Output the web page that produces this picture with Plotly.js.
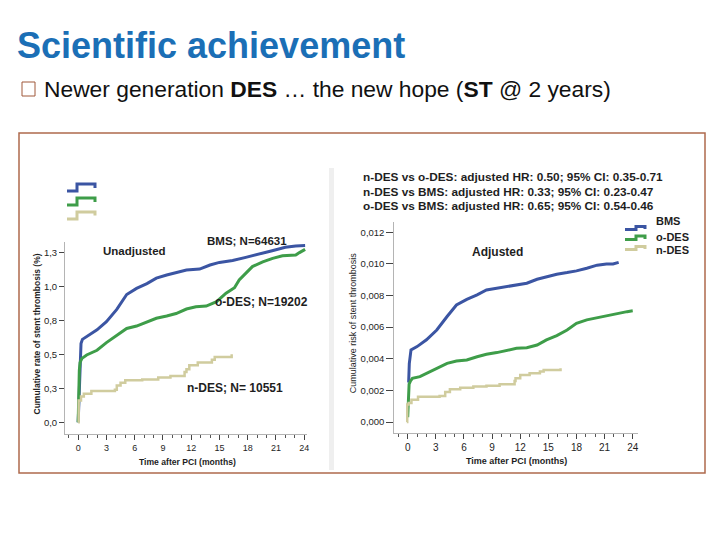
<!DOCTYPE html>
<html>
<head>
<meta charset="utf-8">
<script src="https://cdn.plot.ly/plotly-3.0.1.min.js"></script>
<style>html,body{margin:0;padding:0;background:#fff;}#chart{width:720px;height:540px;}</style>
</head>
<body>
<div id="chart"></div>
<script>
// ---------- Data ----------
// Unadjusted (left panel): cumulative rate of stent thrombosis (%)
var bmsUnadjMonths = [0, 0.15, 0.22, 0.3, 0.45, 0.9, 2.0, 3.0, 4.1, 5.15, 6.2, 7.3, 8.3, 9.4, 10.4, 11.5, 12.9, 14.0, 15.0, 16.4, 17.8, 19.2, 20.6, 22.0, 23.1, 24.1];
var bmsUnadjRate   = [0, 0.30, 0.45, 0.58, 0.61, 0.63, 0.68, 0.74, 0.83, 0.94, 0.985, 1.02, 1.06, 1.083, 1.10, 1.12, 1.127, 1.157, 1.176, 1.19, 1.213, 1.24, 1.262, 1.287, 1.297, 1.30];
var odesUnadjMonths = [0, 0.05, 0.12, 0.2, 0.4, 0.9, 2.0, 3.0, 4.1, 5.15, 6.2, 7.3, 8.3, 9.4, 10.4, 11.5, 12.5, 13.6, 14.7, 15.7, 16.6, 17.1, 17.8, 18.5, 19.6, 20.65, 21.7, 23.1, 23.5, 24.1];
var odesUnadjRate   = [0, 0.20, 0.38, 0.44, 0.47, 0.495, 0.53, 0.586, 0.642, 0.69, 0.708, 0.735, 0.765, 0.782, 0.80, 0.833, 0.85, 0.855, 0.887, 0.95, 0.99, 1.047, 1.096, 1.145, 1.18, 1.206, 1.225, 1.23, 1.248, 1.272];
var ndesUnadjMonths = [0, 0.05, 0.3, 0.6, 1.4, 3.9, 4.1, 4.5, 5.0, 6.8, 8.5, 9.8, 11.3, 11.5, 11.8, 12.7, 14.2, 14.5, 16.3];
var ndesUnadjRate   = [0, 0.16, 0.19, 0.21, 0.23, 0.24, 0.27, 0.29, 0.31, 0.315, 0.33, 0.34, 0.37, 0.39, 0.42, 0.44, 0.46, 0.48, 0.50];

// Adjusted (right panel): cumulative risk of stent thrombosis
var bmsAdjMonths = [0.1, 0.17, 0.35, 1.0, 2.0, 3.1, 4.2, 5.2, 6.3, 7.4, 8.4, 9.5, 10.6, 11.6, 12.7, 13.8, 14.8, 15.9, 17.0, 18.0, 19.1, 20.2, 21.2, 21.9, 22.5];
var bmsAdjRisk   = [0.0025, 0.0037, 0.00456, 0.00477, 0.0052, 0.00582, 0.00667, 0.0074, 0.00776, 0.00804, 0.00835, 0.00846, 0.0086, 0.00871, 0.00878, 0.00903, 0.0092, 0.00935, 0.00945, 0.00956, 0.00973, 0.00992, 0.0100, 0.0100, 0.0101];
var odesAdjMonths = [0, 0.05, 0.15, 0.3, 0.5, 1.3, 2.0, 3.1, 4.2, 5.2, 6.3, 7.4, 8.4, 9.5, 10.6, 11.6, 12.7, 13.8, 14.8, 15.9, 17.0, 18.0, 19.1, 20.2, 21.2, 22.3, 23.4, 24.0];
var odesAdjRisk   = [0.0003, 0.0013, 0.0024, 0.0026, 0.00276, 0.00287, 0.00308, 0.0034, 0.00371, 0.00386, 0.00392, 0.00413, 0.00428, 0.00439, 0.00451, 0.00466, 0.0047, 0.00487, 0.00519, 0.00546, 0.00582, 0.00624, 0.00646, 0.0066, 0.00671, 0.00684, 0.00698, 0.00703];
var ndesAdjMonths = [-0.1, -0.05, 0.1, 0.4, 1.1, 3.4, 4.0, 4.5, 5.6, 7.0, 8.4, 9.8, 11.4, 11.5, 12.0, 13.0, 14.1, 14.5, 16.3];
var ndesAdjRisk   = [0, 0.0011, 0.0012, 0.0014, 0.0016, 0.00165, 0.0019, 0.00207, 0.00217, 0.00224, 0.0023, 0.00238, 0.0026, 0.00276, 0.00297, 0.00308, 0.00319, 0.00329, 0.0034];

// Tick labels
var monthTickVals = [0, 3, 6, 9, 12, 15, 18, 21, 24];
var monthTickText = ["0", "3", "6", "9", "12", "15", "18", "21", "24"];
var unadjTickVals = [0, 0.25, 0.5, 0.75, 1.0, 1.25];
var unadjTickText = ["0,0", "0,3", "0,5", "0,8", "1,0", "1,3"];
var adjTickVals = [0, 0.002, 0.004, 0.006, 0.008, 0.010, 0.012];
var adjTickText = ["0,000", "0,002", "0,004", "0,006", "0,008", "0,010", "0,012"];

var seriesNames = ["BMS", "o-DES", "n-DES"];
var unadjLabels = ["BMS; N=64631", "o-DES; N=19202", "n-DES; N= 10551"];
var hrLines = [
  "n-DES vs o-DES: adjusted HR: 0.50; 95% CI: 0.35-0.71",
  "n-DES vs BMS: adjusted HR: 0.33; 95% CI: 0.23-0.47",
  "o-DES vs BMS: adjusted HR: 0.65; 95% CI: 0.54-0.46"
];

// ---------- Styling ----------
var W = 720, H = 540;
function px(x) { return x / W; }
function py(y) { return 1 - y / H; }
var FONT = "Liberation Sans, Arial, Helvetica, sans-serif";
var BLUE = "#3b55a3", GREEN = "#3e9d49", TAN = "#d0cc9e";
var TXT = "#1e1e1e";

function line(x, y, color, width, shape, xa, ya, name) {
  return {x: x, y: y, type: "scatter", mode: "lines", name: name,
    line: {color: color, width: width, shape: shape}, xaxis: xa, yaxis: ya,
    showlegend: false, hoverinfo: "skip"};
}

var data = [
  line(bmsUnadjMonths, bmsUnadjRate, BLUE, 3, "linear", "x", "y", seriesNames[0]),
  line(odesUnadjMonths, odesUnadjRate, GREEN, 3, "linear", "x", "y", seriesNames[1]),
  line(ndesUnadjMonths, ndesUnadjRate, TAN, 2.5, "hv", "x", "y", seriesNames[2]),
  line(bmsAdjMonths, bmsAdjRisk, BLUE, 3, "linear", "x2", "y2", seriesNames[0]),
  line(odesAdjMonths, odesAdjRisk, GREEN, 3, "linear", "x2", "y2", seriesNames[1]),
  line(ndesAdjMonths, ndesAdjRisk, TAN, 2.5, "hv", "x2", "y2", seriesNames[2])
];

function xAxis(dom, range, anchor, fsize) {
  return {domain: dom, range: range, anchor: anchor, tickmode: "array",
    tickvals: monthTickVals, ticktext: monthTickText, ticks: "outside", ticklen: 5,
    tickcolor: "#444", tickwidth: 1, showline: true, linecolor: "#b4b4b4", linewidth: 1,
    showgrid: false, zeroline: false, tickfont: {family: FONT, size: fsize, color: TXT},
    minor: {tickmode: "linear", tick0: 0, dtick: 1, ticks: "outside", ticklen: 3, tickcolor: "#555", showgrid: false},
    fixedrange: true};
}
function yAxis(dom, range, anchor, vals, text, fsize, tl) {
  return {domain: dom, range: range, anchor: anchor, tickmode: "array",
    tickvals: vals, ticktext: text, ticks: "outside", ticklen: tl, tickcolor: "#444",
    showline: true, linecolor: "#b4b4b4", linewidth: 1, showgrid: false, zeroline: false,
    tickfont: {family: FONT, size: fsize, color: TXT}, fixedrange: true};
}

function ann(text, x, y, size, xanchor, extra) {
  var a = {text: text, xref: "paper", yref: "paper", x: px(x), y: py(y), xanchor: xanchor || "left",
    yanchor: "middle", showarrow: false, font: {family: FONT, size: size, color: TXT}};
  if (extra) for (var k in extra) a[k] = extra[k];
  return a;
}

var annotations = [
  ann("Newer generation <b>DES</b> … the new hope (<b>ST</b> @ 2 years)", 42, 89, 22.8, "left", {font: {family: FONT, size: 22.8, color: "#111"}}),
  // left panel
  ann("<b>Unadjusted</b>", 134.5, 251, 11.5, "center"),
  ann("<b>" + unadjLabels[0] + "</b>", 205, 241, 11.5, "left"),
  ann("<b>" + unadjLabels[1] + "</b>", 213, 302, 12, "left"),
  ann("<b>" + unadjLabels[2] + "</b>", 185.5, 388, 12, "left"),
  ann("<b>Cumulative rate of stent thrombosis (%)</b>", 36.5, 334, 8.5, "center", {textangle: -90}),
  ann("<b>Time after PCI (months)</b>", 187, 461.5, 8.6, "center"),
  // right panel
  ann("<b>" + hrLines[0] + "</b>", 360.5, 176.5, 11.8, "left"),
  ann("<b>" + hrLines[1] + "</b>", 360.5, 191.5, 11.8, "left"),
  ann("<b>" + hrLines[2] + "</b>", 360.5, 205.5, 11.8, "left"),
  ann("<b>Adjusted</b>", 497.5, 252, 12, "center"),
  ann("<b>" + seriesNames[0] + "</b>", 653.5, 221, 11, "left"),
  ann("<b>" + seriesNames[1] + "</b>", 653.5, 237, 11, "left"),
  ann("<b>" + seriesNames[2] + "</b>", 653.5, 250, 11, "left"),
  ann("Cumulative risk of stent thrombosis", 353.3, 323, 9, "center", {textangle: -90}),
  ann("<b>Time after PCI (months)</b>", 516.7, 461, 9, "center")
];

function pathPx(cmds) {
  return cmds.map(function (c) { return c[0] + px(c[1]).toFixed(5) + "," + py(c[2]).toFixed(5); }).join(" ");
}
function stepIcon(x0, xm, x1, yLow, yHigh, yEnd, color) {
  return {type: "path", xref: "paper", yref: "paper",
    path: pathPx([["M", x0, yLow], ["L", xm, yLow], ["L", xm, yHigh], ["L", x1, yHigh], ["L", x1, yEnd]]),
    line: {color: color, width: 3}};
}

var shapes = [
  // outer frame
  {type: "rect", xref: "paper", yref: "paper", x0: px(19), x1: px(705), y0: py(473), y1: py(133),
    line: {color: "#ae6a4c", width: 1.5}},
  // checkbox bullet
  {type: "rect", xref: "paper", yref: "paper", x0: px(22), x1: px(35), y0: py(96), y1: py(82),
    line: {color: "#a0583a", width: 1}},
  // faint divider strip of left image
  {type: "rect", xref: "paper", yref: "paper", x0: px(329), x1: px(334), y0: py(470), y1: py(168),
    fillcolor: "#efefef", line: {width: 0}, layer: "below"},
  // left legend icons (no labels)
  stepIcon(67, 77, 95, 191, 184, 188, BLUE),
  stepIcon(67, 77, 95, 205, 198, 202, GREEN),
  stepIcon(67, 77, 95, 219, 212, 215.5, TAN),
  // right legend icons
  stepIcon(625, 636, 645, 229.5, 226.5, 229, BLUE),
  stepIcon(625, 636, 645, 239.5, 236, 239, GREEN),
  stepIcon(625, 636, 645, 249.5, 246.5, 249, TAN)
];

var layout = {
  width: W, height: H, autosize: false,
  margin: {l: 0, r: 0, t: 0, b: 0, pad: 0},
  paper_bgcolor: "#ffffff", plot_bgcolor: "rgba(0,0,0,0)",
  showlegend: false,
  title: {text: "<b>Scientific achievement</b>", x: px(17), xanchor: "left", xref: "paper",
    y: py(45), yanchor: "middle", yref: "paper",
    font: {family: FONT, size: 36, color: "#1b6fb6"}},
  xaxis: xAxis([px(65), px(307)], [-1.4, 24.3], "y", 9),
  yaxis: yAxis([py(434), py(242)], [-0.086, 1.326], "x", unadjTickVals, unadjTickText, 9.5, 5),
  xaxis2: xAxis([px(394.3), px(637.7)], [-1.43, 24.53], "y2", 10),
  yaxis2: yAxis([py(433.3), py(221.7)], [-0.000715, 0.01267], "x2", adjTickVals, adjTickText, 9.5, 7),
  annotations: annotations,
  shapes: shapes
};

Plotly.newPlot("chart", data, layout, {displayModeBar: false, staticPlot: true});
</script>
</body>
</html>
